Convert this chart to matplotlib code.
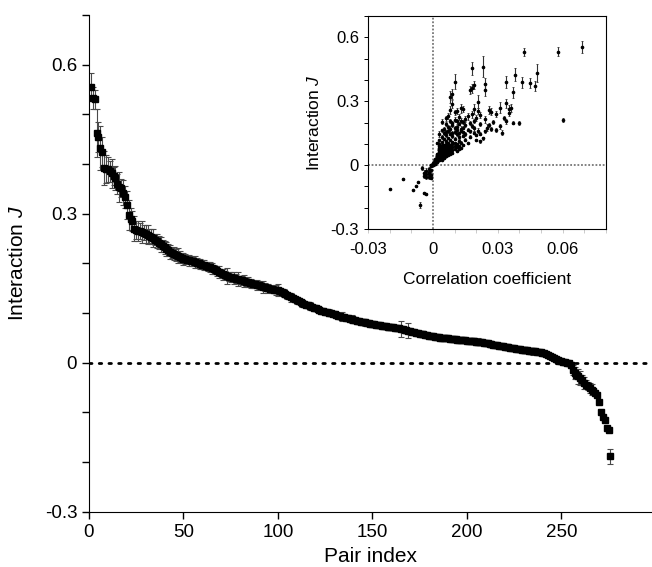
import numpy as np
import matplotlib.pyplot as plt
from matplotlib.ticker import MultipleLocator

plt.rc("font", family=["Liberation Sans", "DejaVu Sans"], size=12)
plt.rc("mathtext", fontset="custom", it="Liberation Sans:italic", rm="Liberation Sans")
plt.rc("axes", unicode_minus=False)

# interaction J, sorted, pair index 1..276
J = [
    0.555, 0.533, 0.530, 0.462, 0.455, 0.432, 0.425, 0.392, 0.390, 0.389,
    0.385, 0.381, 0.376, 0.372, 0.360, 0.354, 0.351, 0.342, 0.334, 0.318,
    0.298, 0.290, 0.286, 0.270, 0.268, 0.266, 0.265, 0.264, 0.262, 0.260,
    0.258, 0.256, 0.254, 0.251, 0.248, 0.245, 0.242, 0.238, 0.235, 0.232,
    0.229, 0.226, 0.223, 0.221, 0.219, 0.217, 0.215, 0.213, 0.211, 0.209,
    0.208, 0.207, 0.206, 0.205, 0.204, 0.203, 0.201, 0.200, 0.199, 0.197,
    0.196, 0.195, 0.193, 0.192, 0.190, 0.188, 0.186, 0.184, 0.182, 0.180,
    0.178, 0.176, 0.175, 0.173, 0.172, 0.171, 0.170, 0.169, 0.168, 0.167,
    0.166, 0.165, 0.163, 0.162, 0.161, 0.160, 0.159, 0.158, 0.157, 0.156,
    0.155, 0.153, 0.152, 0.151, 0.150, 0.149, 0.148, 0.147, 0.146, 0.146,
    0.144, 0.142, 0.140, 0.138, 0.136, 0.134, 0.132, 0.130, 0.128, 0.126,
    0.124, 0.122, 0.120, 0.118, 0.117, 0.116, 0.114, 0.112, 0.111, 0.110,
    0.108, 0.106, 0.105, 0.104, 0.103, 0.102, 0.101, 0.100, 0.099, 0.098,
    0.096, 0.095, 0.094, 0.093, 0.092, 0.091, 0.090, 0.089, 0.088, 0.086,
    0.085, 0.084, 0.083, 0.082, 0.082, 0.081, 0.080, 0.079, 0.078, 0.077,
    0.077, 0.076, 0.076, 0.075, 0.074, 0.074, 0.073, 0.072, 0.072, 0.071,
    0.071, 0.070, 0.069, 0.069, 0.068, 0.067, 0.066, 0.065, 0.064, 0.063,
    0.062, 0.061, 0.060, 0.059, 0.058, 0.057, 0.057, 0.056, 0.055, 0.054,
    0.054, 0.053, 0.052, 0.051, 0.051, 0.050, 0.050, 0.050, 0.049, 0.049,
    0.048, 0.048, 0.047, 0.047, 0.046, 0.046, 0.046, 0.045, 0.045, 0.044,
    0.044, 0.044, 0.043, 0.043, 0.042, 0.042, 0.041, 0.041, 0.040, 0.039,
    0.039, 0.038, 0.037, 0.036, 0.036, 0.035, 0.034, 0.034, 0.033, 0.032,
    0.032, 0.031, 0.030, 0.029, 0.029, 0.028, 0.028, 0.027, 0.026, 0.026,
    0.025, 0.025, 0.024, 0.024, 0.023, 0.023, 0.022, 0.022, 0.021, 0.020,
    0.019, 0.018, 0.016, 0.014, 0.012, 0.010, 0.007, 0.005, 0.004, 0.003,
    0.002, 0.001, 0.000, -0.001, -0.004, -0.015, -0.020, -0.024, -0.027, -0.031,
    -0.035, -0.040, -0.044, -0.047, -0.051, -0.054, -0.057, -0.060, -0.066, -0.080,
    -0.099, -0.110, -0.115, -0.132, -0.135, -0.188,
]

J_err = [
    0.029, 0.022, 0.020, 0.048, 0.030, 0.044, 0.030, 0.035, 0.028, 0.025,
    0.022, 0.030, 0.018, 0.024, 0.020, 0.030, 0.018, 0.025, 0.022, 0.028,
    0.030, 0.022, 0.020, 0.025, 0.018, 0.020, 0.016, 0.022, 0.015, 0.018,
    0.020, 0.014, 0.016, 0.018, 0.012, 0.015, 0.014, 0.016, 0.012, 0.014,
    0.015, 0.012, 0.014, 0.010, 0.013, 0.012, 0.015, 0.011, 0.010, 0.012,
    0.010, 0.009, 0.011, 0.010, 0.009, 0.012, 0.010, 0.008, 0.010, 0.009,
    0.010, 0.008, 0.009, 0.010, 0.011, 0.009, 0.008, 0.010, 0.012, 0.009,
    0.011, 0.008, 0.016, 0.009, 0.010, 0.008, 0.012, 0.009, 0.014, 0.008,
    0.009, 0.012, 0.008, 0.010, 0.007, 0.009, 0.008, 0.007, 0.010, 0.008,
    0.007, 0.012, 0.008, 0.007, 0.009, 0.006, 0.008, 0.007, 0.010, 0.012,
    0.007, 0.006, 0.008, 0.005, 0.007, 0.006, 0.009, 0.006, 0.005, 0.007,
    0.006, 0.005, 0.007, 0.006, 0.005, 0.006, 0.008, 0.005, 0.006, 0.005,
    0.006, 0.005, 0.004, 0.006, 0.005, 0.004, 0.007, 0.005, 0.004, 0.006,
    0.005, 0.004, 0.006, 0.009, 0.005, 0.004, 0.006, 0.005, 0.008, 0.005,
    0.004, 0.006, 0.005, 0.004, 0.005, 0.007, 0.004, 0.005, 0.004, 0.006,
    0.005, 0.004, 0.005, 0.004, 0.006, 0.004, 0.005, 0.004, 0.005, 0.004,
    0.005, 0.004, 0.005, 0.004, 0.016, 0.005, 0.004, 0.005, 0.015, 0.004,
    0.005, 0.004, 0.005, 0.004, 0.005, 0.004, 0.005, 0.004, 0.005, 0.004,
    0.004, 0.005, 0.004, 0.004, 0.005, 0.004, 0.004, 0.005, 0.004, 0.004,
    0.005, 0.004, 0.004, 0.005, 0.004, 0.004, 0.005, 0.004, 0.004, 0.005,
    0.004, 0.004, 0.005, 0.004, 0.006, 0.007, 0.005, 0.004, 0.004, 0.005,
    0.004, 0.004, 0.005, 0.004, 0.004, 0.005, 0.004, 0.004, 0.005, 0.004,
    0.004, 0.005, 0.004, 0.004, 0.005, 0.004, 0.004, 0.005, 0.004, 0.004,
    0.005, 0.004, 0.004, 0.006, 0.007, 0.005, 0.004, 0.004, 0.005, 0.004,
    0.005, 0.004, 0.005, 0.004, 0.005, 0.006, 0.005, 0.004, 0.005, 0.004,
    0.006, 0.005, 0.004, 0.005, 0.006, 0.010, 0.012, 0.008, 0.015, 0.014,
    0.010, 0.012, 0.009, 0.008, 0.010, 0.012, 0.007, 0.005, 0.004, 0.003,
    0.003, 0.003, 0.003, 0.004, 0.003, 0.015,
]

# correlation coefficient of each pair (inset x)
corr = [
    0.069, 0.058, 0.042, 0.023, 0.018, 0.048, 0.038, 0.010, 0.034, 0.041,
    0.045, 0.024, 0.019, 0.047, 0.018, 0.024, 0.017, 0.037, 0.009, 0.008,
    0.021, 0.034, 0.009, 0.031, 0.036, 0.013, 0.035, 0.019, 0.014, 0.008,
    0.026, 0.021, 0.011, 0.027, 0.010, 0.035, 0.029, 0.018, 0.022, 0.007,
    0.016, 0.012, 0.020, 0.033, 0.006, 0.015, 0.024, 0.010, 0.060, 0.013,
    0.008, 0.019, 0.034, 0.011, 0.028, 0.004, 0.014, 0.037, 0.009, 0.017,
    0.040, 0.012, 0.006, 0.022, 0.015, 0.026, 0.009, 0.018, 0.031, 0.011,
    0.007, 0.014, 0.025, 0.010, 0.019, 0.005, 0.013, 0.027, 0.008, 0.016,
    0.029, 0.011, 0.004, 0.021, 0.013, 0.007, 0.017, 0.024, 0.010, 0.006,
    0.014, 0.032, 0.009, 0.019, 0.005, 0.012, 0.022, 0.008, 0.015, 0.003,
    0.011, 0.020, 0.006, 0.014, 0.009, 0.017, 0.004, 0.012, 0.007, 0.023,
    0.010, 0.005, 0.015, 0.008, 0.020, 0.003, 0.012, 0.006, 0.022, 0.009,
    0.004, 0.013, 0.007, 0.010, 0.002, 0.016, 0.006, 0.009, 0.003, 0.011,
    0.005, 0.008, 0.014, 0.004, 0.010, 0.006, 0.003, 0.012, 0.007, 0.005,
    0.009, 0.004, 0.011, 0.006, 0.003, 0.008, 0.005, 0.013, 0.004, 0.007,
    0.003, 0.010, 0.005, 0.007, 0.004, 0.012, 0.006, 0.003, 0.008, 0.005,
    0.004, 0.009, 0.006, 0.003, 0.007, 0.005, 0.011, 0.004, 0.006, 0.003,
    0.008, 0.005, 0.004, 0.006, 0.003, 0.009, 0.005, 0.004, 0.007, 0.003,
    0.005, 0.004, 0.006, 0.003, 0.008, 0.004, 0.005, 0.002, 0.006, 0.004,
    0.003, 0.005, 0.004, 0.007, 0.002, 0.004, 0.005, 0.003, 0.006, 0.004,
    0.002, 0.005, 0.003, 0.004, 0.006, 0.002, 0.004, 0.003, 0.005, 0.002,
    0.004, 0.003, 0.005, 0.002, 0.003, 0.004, 0.002, 0.003, 0.005, 0.002,
    0.003, 0.002, 0.004, 0.002, 0.003, 0.001, 0.003, 0.002, 0.004, 0.002,
    0.001, 0.003, 0.002, 0.002, 0.001, 0.003, 0.002, 0.001, 0.002, 0.001,
    0.002, 0.001, 0.001, 0.002, 0.000, 0.001, 0.001, 0.000, 0.001, 0.000,
    0.000, -0.001, 0.000, -0.001, -0.001, -0.005, -0.002, -0.001, -0.003, -0.002,
    -0.004, -0.003, -0.002, -0.001, -0.004, -0.003, -0.002, -0.001, -0.014, -0.007,
    -0.008, -0.020, -0.009, -0.004, -0.003, -0.006,
]

main_yticks = [-0.3, 0, 0.3, 0.6]
main_yticklabels = ["-0.3", "0", "0.3", "0.6"]
main_xticks = [0, 50, 100, 150, 200, 250]
inset_xticks = [-0.03, 0, 0.03, 0.06]
inset_xticklabels = ["-0.03", "0", "0.03", "0.06"]

pair_index = np.arange(1, len(J) + 1)

fig = plt.figure(figsize=(6.52, 5.67), dpi=100)
ax = fig.add_axes([0.1365, 0.0975, 0.8635, 0.876])

ax.axhline(0, color="black", lw=2.0, ls=(0, (0.9, 2.6)), dash_capstyle="round", zorder=1)
ax.errorbar(pair_index, J, yerr=J_err, fmt="s", ms=3.8, color="black",
            ecolor="#4a4a4a", elinewidth=0.8, capsize=2.4, capthick=0.8, zorder=2)

ax.set_xlim(0, 298)
ax.set_ylim(-0.3, 0.7)
ax.set_xticks(main_xticks)
ax.set_yticks(main_yticks)
ax.set_yticklabels(main_yticklabels)
ax.yaxis.set_minor_locator(MultipleLocator(0.1))
ax.tick_params(which="both", direction="out", labelsize=13.5, width=1, length=5)
ax.spines["top"].set_visible(False)
ax.spines["right"].set_visible(False)
ax.set_xlabel("Pair index", fontsize=15, labelpad=5)
ax.set_ylabel(r"Interaction $J$", fontsize=15, labelpad=13)

# inset: J vs correlation coefficient
ins = fig.add_axes([0.5644, 0.5961, 0.365, 0.3757])
ins.axhline(0, color="#777777", lw=1.3, ls=(0, (1, 1)), zorder=1)
ins.axvline(0, color="#777777", lw=1.3, ls=(0, (1, 1)), zorder=1)
ins.errorbar(corr, J, yerr=J_err, fmt="o", ms=1.6, color="black",
             ecolor="#333333", elinewidth=0.8, capsize=0.8, capthick=0.6, zorder=2)
ins.set_xlim(-0.03, 0.08)
ins.set_ylim(-0.3, 0.7)
ins.set_xticks(inset_xticks)
ins.set_xticklabels(inset_xticklabels)
ins.set_yticks(main_yticks)
ins.set_yticklabels(main_yticklabels)
ins.xaxis.set_minor_locator(MultipleLocator(0.01))
ins.yaxis.set_minor_locator(MultipleLocator(0.1))
ins.tick_params(which="both", direction="out", labelsize=12, length=3, width=0.7)
ins.tick_params(axis="x", which="both", colors="#cccccc", labelcolor="black", pad=6)
ins.set_xlabel("Correlation coefficient", fontsize=12.5, labelpad=11)
ins.set_ylabel(r"Interaction $J$", fontsize=12.5, labelpad=6)

fig.savefig("out.png", dpi=100)
